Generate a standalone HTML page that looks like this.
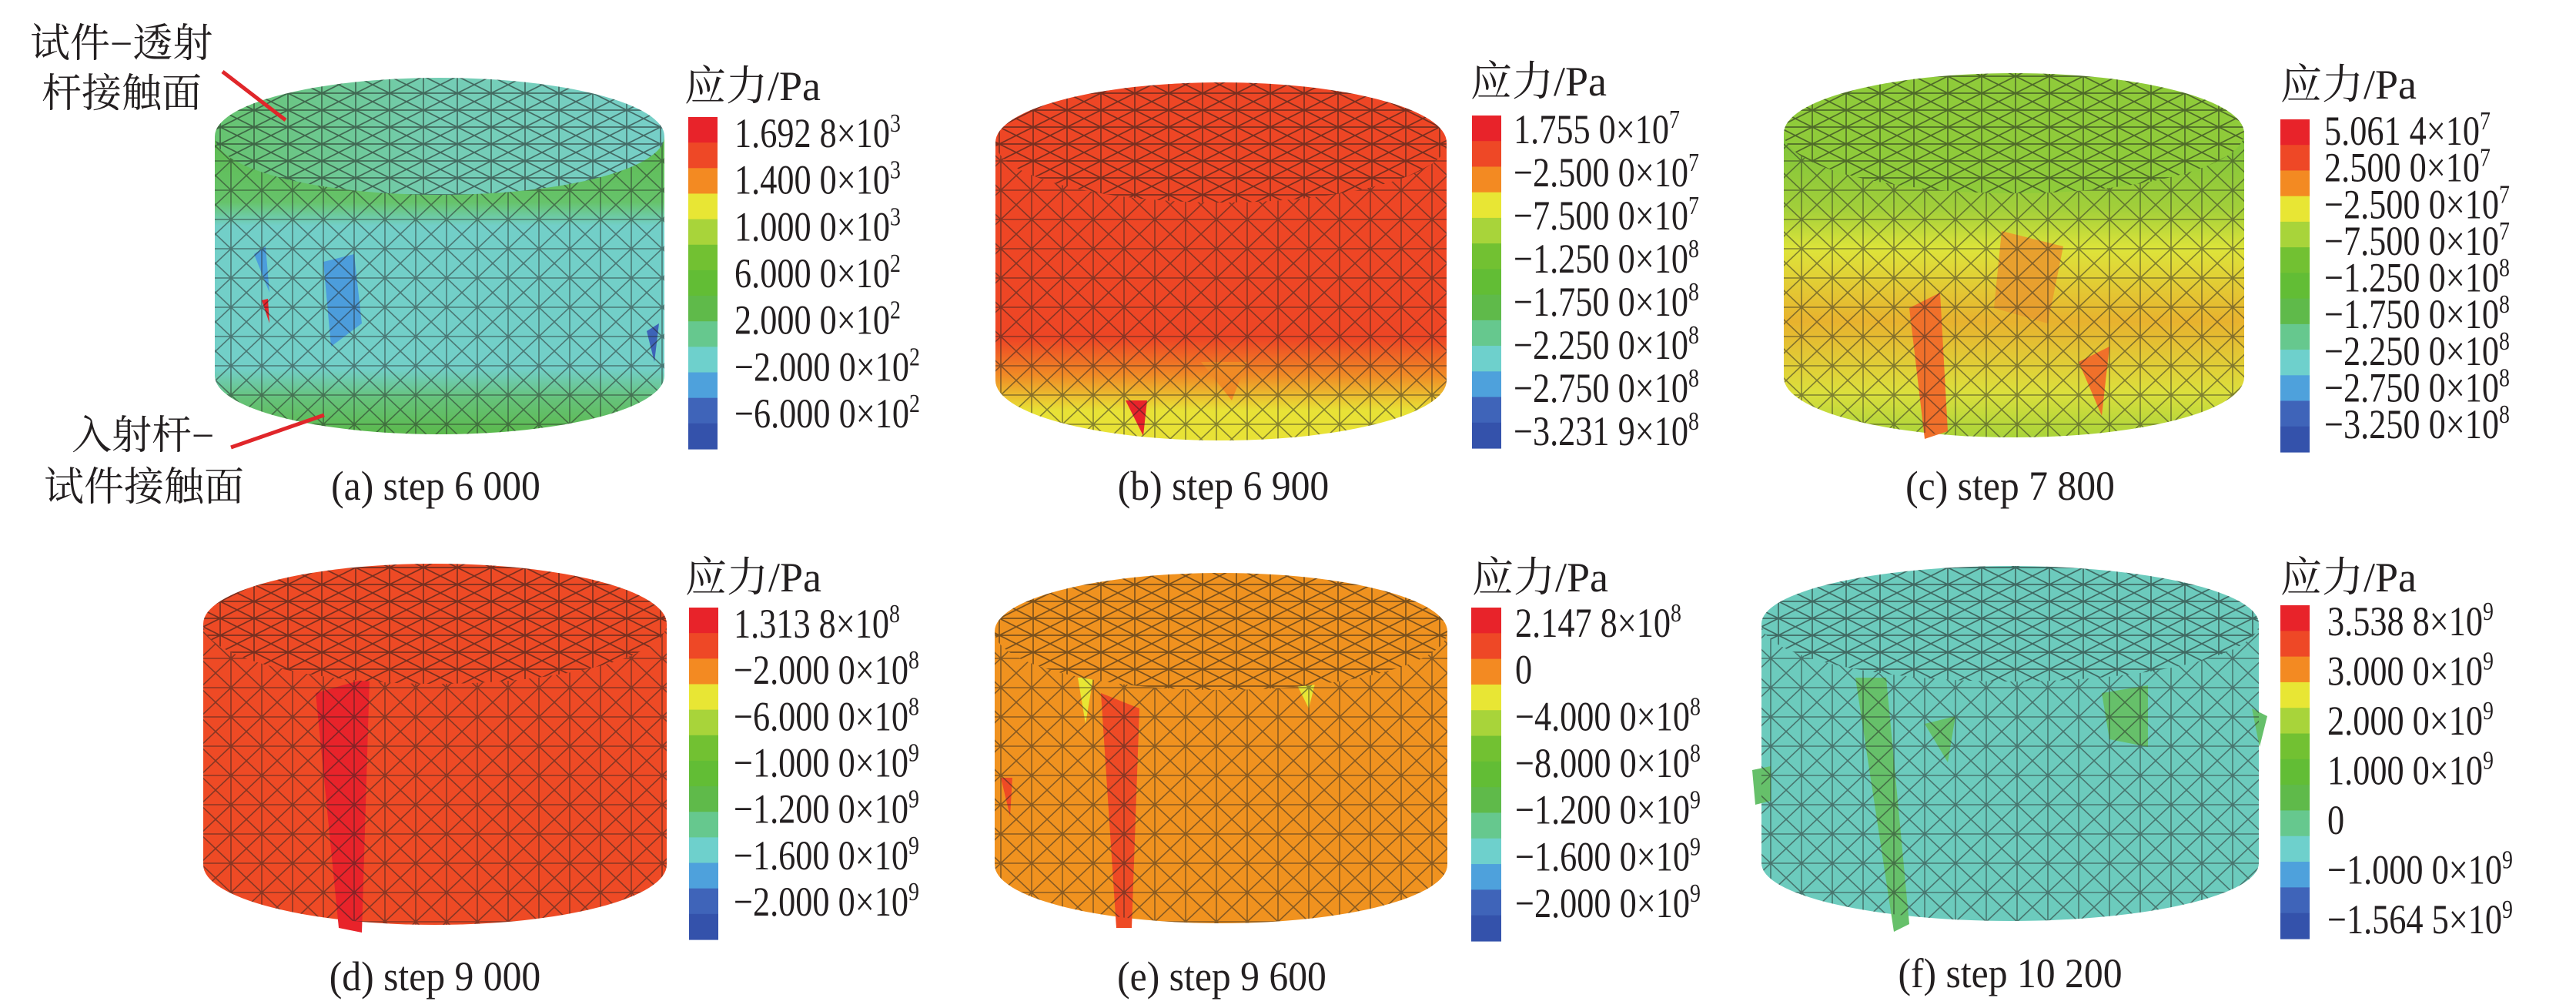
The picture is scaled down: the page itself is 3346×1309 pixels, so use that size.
<!DOCTYPE html>
<html><head><meta charset="utf-8">
<style>
html,body{margin:0;padding:0;background:#fff;}
svg{display:block;}
text{font-family:"Liberation Serif","Noto Serif CJK SC","Noto Sans CJK SC",serif;fill:#231f20;}
</style></head>
<body>
<svg id="fig" xmlns="http://www.w3.org/2000/svg" width="3346" height="1309" viewBox="0 0 3346 1309">
<defs>
<pattern id="meshSide" patternUnits="userSpaceOnUse" width="40" height="38">
<path d="M0 0L40 38M40 0L0 38M20 0L20 38M0 19L40 19M0 0L20 19L40 0" stroke="#222" stroke-opacity="0.5" stroke-width="1.6" fill="none"/>
</pattern>
<pattern id="meshTop" patternUnits="userSpaceOnUse" width="44" height="22">
<path d="M0 0L44 22M44 0L0 22M22 0L22 22M0 11L44 11" stroke="#1a1a1a" stroke-opacity="0.55" stroke-width="1.7" fill="none"/>
</pattern>
<linearGradient id="gA" x1="0" y1="0" x2="0" y2="1">
<stop offset="0" stop-color="#5dbb50"/><stop offset="0.22" stop-color="#66c36a"/><stop offset="0.3" stop-color="#72cfc8"/><stop offset="0.78" stop-color="#72cfc8"/><stop offset="0.88" stop-color="#66c27a"/><stop offset="1" stop-color="#5bb94c"/>
</linearGradient>
<linearGradient id="gAt" x1="0" y1="0" x2="1" y2="0">
<stop offset="0" stop-color="#66c36e"/><stop offset="0.5" stop-color="#74cdb4"/><stop offset="1" stop-color="#76cfc8"/>
</linearGradient>
<linearGradient id="gB" x1="0" y1="0" x2="0" y2="1">
<stop offset="0" stop-color="#ee4625"/><stop offset="0.66" stop-color="#ee4625"/><stop offset="0.78" stop-color="#f08a25"/><stop offset="0.9" stop-color="#e8e236"/><stop offset="1" stop-color="#e8e236"/>
</linearGradient>
<linearGradient id="gC" x1="0" y1="0" x2="0" y2="1">
<stop offset="0" stop-color="#7cc43a"/><stop offset="0.25" stop-color="#a2cf3a"/><stop offset="0.38" stop-color="#dde43a"/><stop offset="0.62" stop-color="#e8b22e"/><stop offset="0.85" stop-color="#dcdf3c"/><stop offset="1" stop-color="#a9d43a"/>
</linearGradient>
</defs>
<g id="panels"></g>
<g id="annot">
<text x="39" y="74" font-size="52">试件−透射</text>
<text x="54" y="139" font-size="52">杆接触面</text>
<line x1="289" y1="93" x2="371" y2="156" stroke="#e0262a" stroke-width="5"/>
<text x="93" y="583" font-size="52">入射杆−</text>
<text x="57" y="650" font-size="52">试件接触面</text>
<line x1="300" y1="581" x2="421" y2="539" stroke="#e0262a" stroke-width="5"/>
</g>
</svg>
<script>
const bandColors = ['#e8232a','#ee4826','#f38a22','#e8e634','#a8d43a','#72c132','#62bd35','#5fba4a','#66c88e','#6ed0cc','#4ea1dc','#3f64b9','#3452ab'];
const labelsA = [["1.692 8×10","3"],["1.400 0×10","3"],["1.000 0×10","3"],["6.000 0×10","2"],["2.000 0×10","2"],["−2.000 0×10","2"],["−6.000 0×10","2"]];
const labelsB = [["1.755 0×10","7"],["−2.500 0×10","7"],["−7.500 0×10","7"],["−1.250 0×10","8"],["−1.750 0×10","8"],["−2.250 0×10","8"],["−2.750 0×10","8"],["−3.231 9×10","8"]];
const labelsC = [["5.061 4×10","7"],["2.500 0×10","7"],["−2.500 0×10","7"],["−7.500 0×10","7"],["−1.250 0×10","8"],["−1.750 0×10","8"],["−2.250 0×10","8"],["−2.750 0×10","8"],["−3.250 0×10","8"]];
const labelsD = [["1.313 8×10","8"],["−2.000 0×10","8"],["−6.000 0×10","8"],["−1.000 0×10","9"],["−1.200 0×10","9"],["−1.600 0×10","9"],["−2.000 0×10","9"]];
const labelsE = [["2.147 8×10","8"],["0",""],["−4.000 0×10","8"],["−8.000 0×10","8"],["−1.200 0×10","9"],["−1.600 0×10","9"],["−2.000 0×10","9"]];
const labelsF = [["3.538 8×10","9"],["3.000 0×10","9"],["2.000 0×10","9"],["1.000 0×10","9"],["0",""],["−1.000 0×10","9"],["−1.564 5×10","9"]];
const captions = ["(a) step 6 000","(b) step 6 900","(c) step 7 800","(d) step 9 000","(e) step 9 600","(f) step 10 200"];

const NS = "http://www.w3.org/2000/svg";
function mk(tag, attrs, parent){ const e=document.createElementNS(NS,tag); for(const k in attrs) e.setAttribute(k,attrs[k]); parent.appendChild(e); return e; }

const panels = [
 {id:'a', labels:labelsA, cyl:{cx:571,rx:292,top:177,ry:76,bot:488}, body:'url(#gA)', topFill:'url(#gAt)', bar:{x:894,y:152,w:38,h:431}, title:{x:889,y:130}, lab:{x:954,y0:173,y1:537}, cap:{cx:566,y:649}},
 {id:'b', labels:labelsB, cyl:{cx:1586,rx:293,top:185,ry:78,bot:494}, body:'url(#gB)', topFill:'#ee4625', bar:{x:1912,y:150,w:38,h:432}, title:{x:1910,y:124}, lab:{x:1966,y0:168,y1:560}, cap:{cx:1589,y:649}},
 {id:'c', labels:labelsC, cyl:{cx:2616,rx:299,top:173,ry:78,bot:490}, body:'url(#gC)', topFill:'#8fcb3a', bar:{x:2962,y:155,w:38,h:432}, title:{x:2962,y:128}, lab:{x:3019,y0:170,y1:551}, cap:{cx:2611,y:649}},
 {id:'d', labels:labelsD, cyl:{cx:565,rx:301,top:810,ry:78,bot:1123}, body:'#ee4a25', topFill:'#ee4a25', bar:{x:895,y:789,w:38,h:431}, title:{x:890,y:768}, lab:{x:953,y0:810,y1:1171}, cap:{cx:565,y:1286}},
 {id:'e', labels:labelsE, cyl:{cx:1586,rx:294,top:820,ry:76,bot:1123}, body:'#f0921f', topFill:'#f0921f', bar:{x:1911,y:789,w:39,h:433}, title:{x:1912,y:768}, lab:{x:1968,y0:809,y1:1173}, cap:{cx:1587,y:1286}},
 {id:'f', labels:labelsF, cyl:{cx:2611,rx:323,top:810,ry:75,bot:1121}, body:'#6ccbbd', topFill:'#6ccbbd', bar:{x:2962,y:786,w:38,h:433}, title:{x:2962,y:768}, lab:{x:3023,y0:807,y1:1194}, cap:{cx:2611,y:1282}}
];

const patchSets = {
  a:[['#4c9ddc',[[420,340],[460,330],[470,420],[430,450]]],['#4c9ddc',[[330,330],[345,320],[350,380]]],['#3d64b8',[[840,430],[856,420],[850,470]]],['#e8232a',[[340,390],[348,388],[350,420]]]],
  b:[['#e8232a',[[1462,520],[1490,520],[1485,566]]],['#f08a25',[[1560,470],[1620,470],[1600,520]]]],
  c:[['#f0702a',[[2480,400],[2520,380],[2530,560],[2500,570]]],['#e8a02e',[[2600,300],[2680,320],[2660,420],[2590,400]]],['#f0702a',[[2700,470],[2740,450],[2730,540]]]],
  d:[['#e8232a',[[410,900],[480,880],[470,1211],[440,1205]]],['#ee4a25',[[268,1000],[280,1000],[280,1060],[268,1060]]]],
  e:[['#ee4a25',[[1430,900],[1480,920],[1470,1205],[1450,1205]]],['#e8e634',[[1400,880],[1420,880],[1410,940]]],['#e8e634',[[1680,880],[1710,880],[1700,920]]],['#ee4a25',[[1300,1010],[1315,1010],[1312,1060]]]],
  f:[['#66c06a',[[2410,880],[2450,880],[2480,1200],[2460,1210]]],['#66c06a',[[2730,900],[2790,890],[2790,970],[2740,960]]],['#66c06a',[[2500,940],[2540,930],[2530,990]]],['#66c06a',[[2276,1000],[2300,995],[2300,1040],[2280,1045]]],['#66c06a',[[2925,920],[2945,930],[2935,970]]]]
};

const root = document.getElementById('panels');
panels.forEach((p, pi) => {
  const g = mk('g', {}, root);
  
  
  const c = p.cyl;
  const bodyD = `M${c.cx-c.rx} ${c.top} L${c.cx-c.rx} ${c.bot} A${c.rx} ${c.ry} 0 0 0 ${c.cx+c.rx} ${c.bot} L${c.cx+c.rx} ${c.top} Z`;
  const body = mk('path', {d:bodyD, fill:p.body}, g);
  
  
  patchSets[p.id].forEach(pt => {
    const poly = mk('polygon', {points: pt[1].map(q=>q.join(',')).join(' '), fill: pt[0]}, g);
    
    
  });
  const meshS = mk('path', {d:bodyD, fill:'url(#meshSide)'}, g);
  
  
  const top = mk('ellipse', {cx:c.cx, cy:c.top, rx:c.rx, ry:c.ry, fill:p.topFill}, g);
  
  
  const topM = mk('ellipse', {cx:c.cx, cy:c.top, rx:c.rx, ry:c.ry, fill:'url(#meshTop)'}, g);
  
  

  const cb = mk('g', {}, g);
  
  
  const n = bandColors.length, bh = p.bar.h / n;
  bandColors.forEach((col, i) => {
    const r = mk('rect', {x:p.bar.x, y:(p.bar.y + i*bh).toFixed(2), width:p.bar.w, height:(bh+0.6).toFixed(2), fill:col}, cb);
    
    
  });
  const t = mk('text', {x:p.title.x, y:p.title.y, 'font-size':54}, cb);
  t.textContent = '应力/Pa';
  
  
  const L = p.labels, step = (p.lab.y1 - p.lab.y0) / (L.length - 1);
  L.forEach((lb, i) => {
    const y = p.lab.y0 + i*step + 18;
    const tx = mk('text', {x:0, y:0, 'font-size':54, transform:`translate(${p.lab.x},${y.toFixed(1)}) scale(0.82,1)`}, cb);
    
    
    const s1 = mk('tspan', {}, tx); s1.textContent = lb[0];
    if (lb[1]) { const s2 = mk('tspan', {dy:-20, 'font-size':34}, tx); s2.textContent = lb[1]; }
  });
  const cap = mk('text', {x:0, y:0, 'font-size':54, 'text-anchor':'middle', transform:`translate(${p.cap.cx},${p.cap.y}) scale(0.92,1)`}, g);
  cap.textContent = captions[pi];
  
  
});
</script>
</body></html>
